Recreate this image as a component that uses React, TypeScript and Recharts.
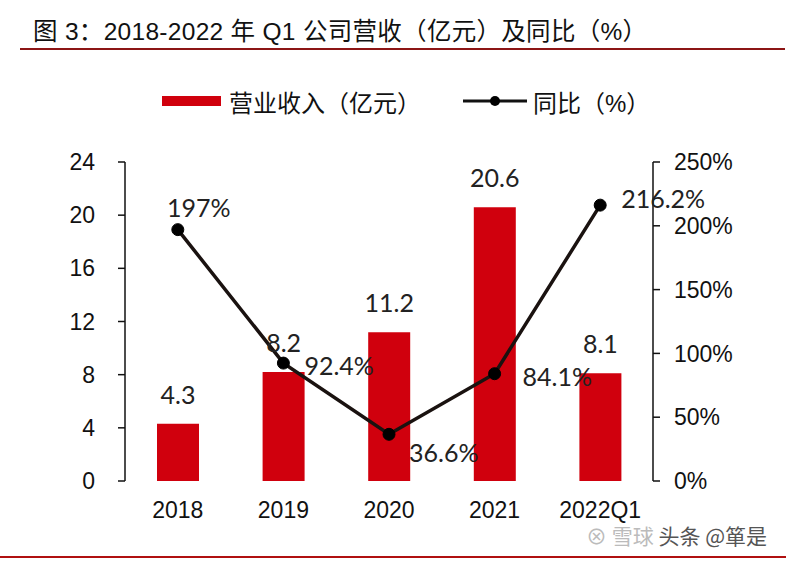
import React from 'react';
import { ComposedChart, Bar, Line, XAxis, YAxis, LabelList } from 'recharts';

const years = ['2018', '2019', '2020', '2021', '2022Q1'];
const revenue = [4.3, 8.2, 11.2, 20.6, 8.1];
const yoy = [197, 92.4, 36.6, 84.1, 216.2];
const leftTicks = [0, 4, 8, 12, 16, 20, 24];
const rightTicks = [0, 50, 100, 150, 200, 250];
const bounds = [0, 1, 2, 3, 4, 5];

const data = years.map((year, i) => ({ year, revenue: revenue[i], yoy: yoy[i] }));

const RED = '#d0000d';
const TICK_FONT = '"Liberation Sans", Arial, sans-serif';
const LABEL_FONT = 'Lato, "Noto Sans", sans-serif';
const CJK_FONT = '"Liberation Sans", "Noto Sans CJK SC", sans-serif';

// where each yoy label sits relative to its dot
const yoyLabelPos = [
  { dx: 21, dy: -23, anchor: 'middle' },
  { dx: 21, dy: 2, anchor: 'start' },
  { dx: 20, dy: 18, anchor: 'start' },
  { dx: 28, dy: 2, anchor: 'start' },
  { dx: 21, dy: -7, anchor: 'start' },
];

const YoyLabel = (props: any) => {
  const { x, y, value, index } = props;
  const p = yoyLabelPos[index];
  return (
    <text
      x={x + p.dx}
      y={y + p.dy}
      textAnchor={p.anchor}
      dominantBaseline="central"
      fontSize={25}
      fontFamily={LABEL_FONT}
      fill="#222"
    >
      {`${value}%`}
    </text>
  );
};

const RevenueLabel = (props: any) => {
  const { x, y, width, value } = props;
  return (
    <text
      x={x + width / 2}
      y={y - 30}
      textAnchor="middle"
      dominantBaseline="central"
      fontSize={25}
      fontFamily={LABEL_FONT}
      fill="#222"
    >
      {value}
    </text>
  );
};

export default function App() {
  const tickStyle = { fontSize: 23, fontFamily: TICK_FONT, fill: '#111' };
  return (
    <div style={{ position: 'relative', width: 800, height: 563, background: '#fff', overflow: 'hidden' }}>
      <style>{'body{margin:0}'}</style>
      <div
        style={{
          position: 'absolute', left: 33, top: 17, fontSize: 24.5, color: '#111',
          fontFamily: CJK_FONT, whiteSpace: 'nowrap', lineHeight: '30px', letterSpacing: 0.3,
        }}
      >
        图 3：2018-2022 年 Q1 公司营收（亿元）及同比（%）
      </div>
      <div style={{ position: 'absolute', left: 20, top: 48, width: 765, height: 2, background: '#8c1515' }} />

      <div
        style={{
          position: 'absolute', left: 162, top: 87, height: 28, display: 'flex', alignItems: 'center',
          fontFamily: CJK_FONT, fontSize: 24, color: '#111', whiteSpace: 'nowrap',
        }}
      >
        <span style={{ display: 'inline-block', width: 59, height: 10, background: RED, marginRight: 8 }} />
        <span>营业收入（亿元）</span>
        <svg width={64} height={12} style={{ marginLeft: 42, marginRight: 6 }}>
          <line x1={0} y1={6} x2={64} y2={6} stroke="#111" strokeWidth={3} />
          <circle cx={32} cy={6} r={5} fill="#000" />
        </svg>
        <span>同比（%）</span>
      </div>

      <div style={{ position: 'absolute', left: 0, top: 0 }}>
        <ComposedChart width={800} height={563} data={data} margin={{ top: 162, right: 47, bottom: 42, left: 65 }}>
          <XAxis
            xAxisId="grid"
            type="number"
            domain={[0, 5]}
            ticks={bounds}
            tickFormatter={() => ''}
            height={0}
            tickSize={7}
            stroke="#111"
            strokeWidth={1.5}
          />
          <XAxis
            dataKey="year"
            axisLine={false}
            tickLine={false}
            tickSize={0}
            tickMargin={21}
            height={40}
            tick={tickStyle}
            interval={0}
          />
          <YAxis
            yAxisId="left"
            domain={[0, 24]}
            ticks={leftTicks}
            width={60}
            tickSize={7}
            tickMargin={23}
            stroke="#111"
            strokeWidth={1.5}
            tick={tickStyle}
          />
          <YAxis
            yAxisId="right"
            orientation="right"
            domain={[0, 250]}
            ticks={rightTicks}
            width={100}
            tickSize={7}
            tickMargin={14}
            stroke="#111"
            strokeWidth={1.5}
            tick={tickStyle}
            tickFormatter={(v: number) => `${v}%`}
          />
          <Bar yAxisId="left" dataKey="revenue" fill={RED} barSize={42} isAnimationActive={false}>
            <LabelList dataKey="revenue" content={RevenueLabel} />
          </Bar>
          <Line
            yAxisId="right"
            dataKey="yoy"
            stroke="#1a1210"
            strokeWidth={3.5}
            dot={{ r: 6, fill: '#000', stroke: '#000', strokeWidth: 1 }}
            isAnimationActive={false}
          >
            <LabelList dataKey="yoy" content={YoyLabel} />
          </Line>
        </ComposedChart>
      </div>

      <div
        style={{
          position: 'absolute', left: 586, top: 524, fontFamily: '"Noto Sans CJK SC", sans-serif', fontSize: 21,
          lineHeight: '22px', color: '#bbb', whiteSpace: 'nowrap',
        }}
      >
        ⊗ 雪球 <span style={{ color: '#555' }}>头条 @箪是</span>
      </div>
      <div style={{ position: 'absolute', left: 0, top: 556, width: 786, height: 2, background: '#b01010' }} />
    </div>
  );
}
